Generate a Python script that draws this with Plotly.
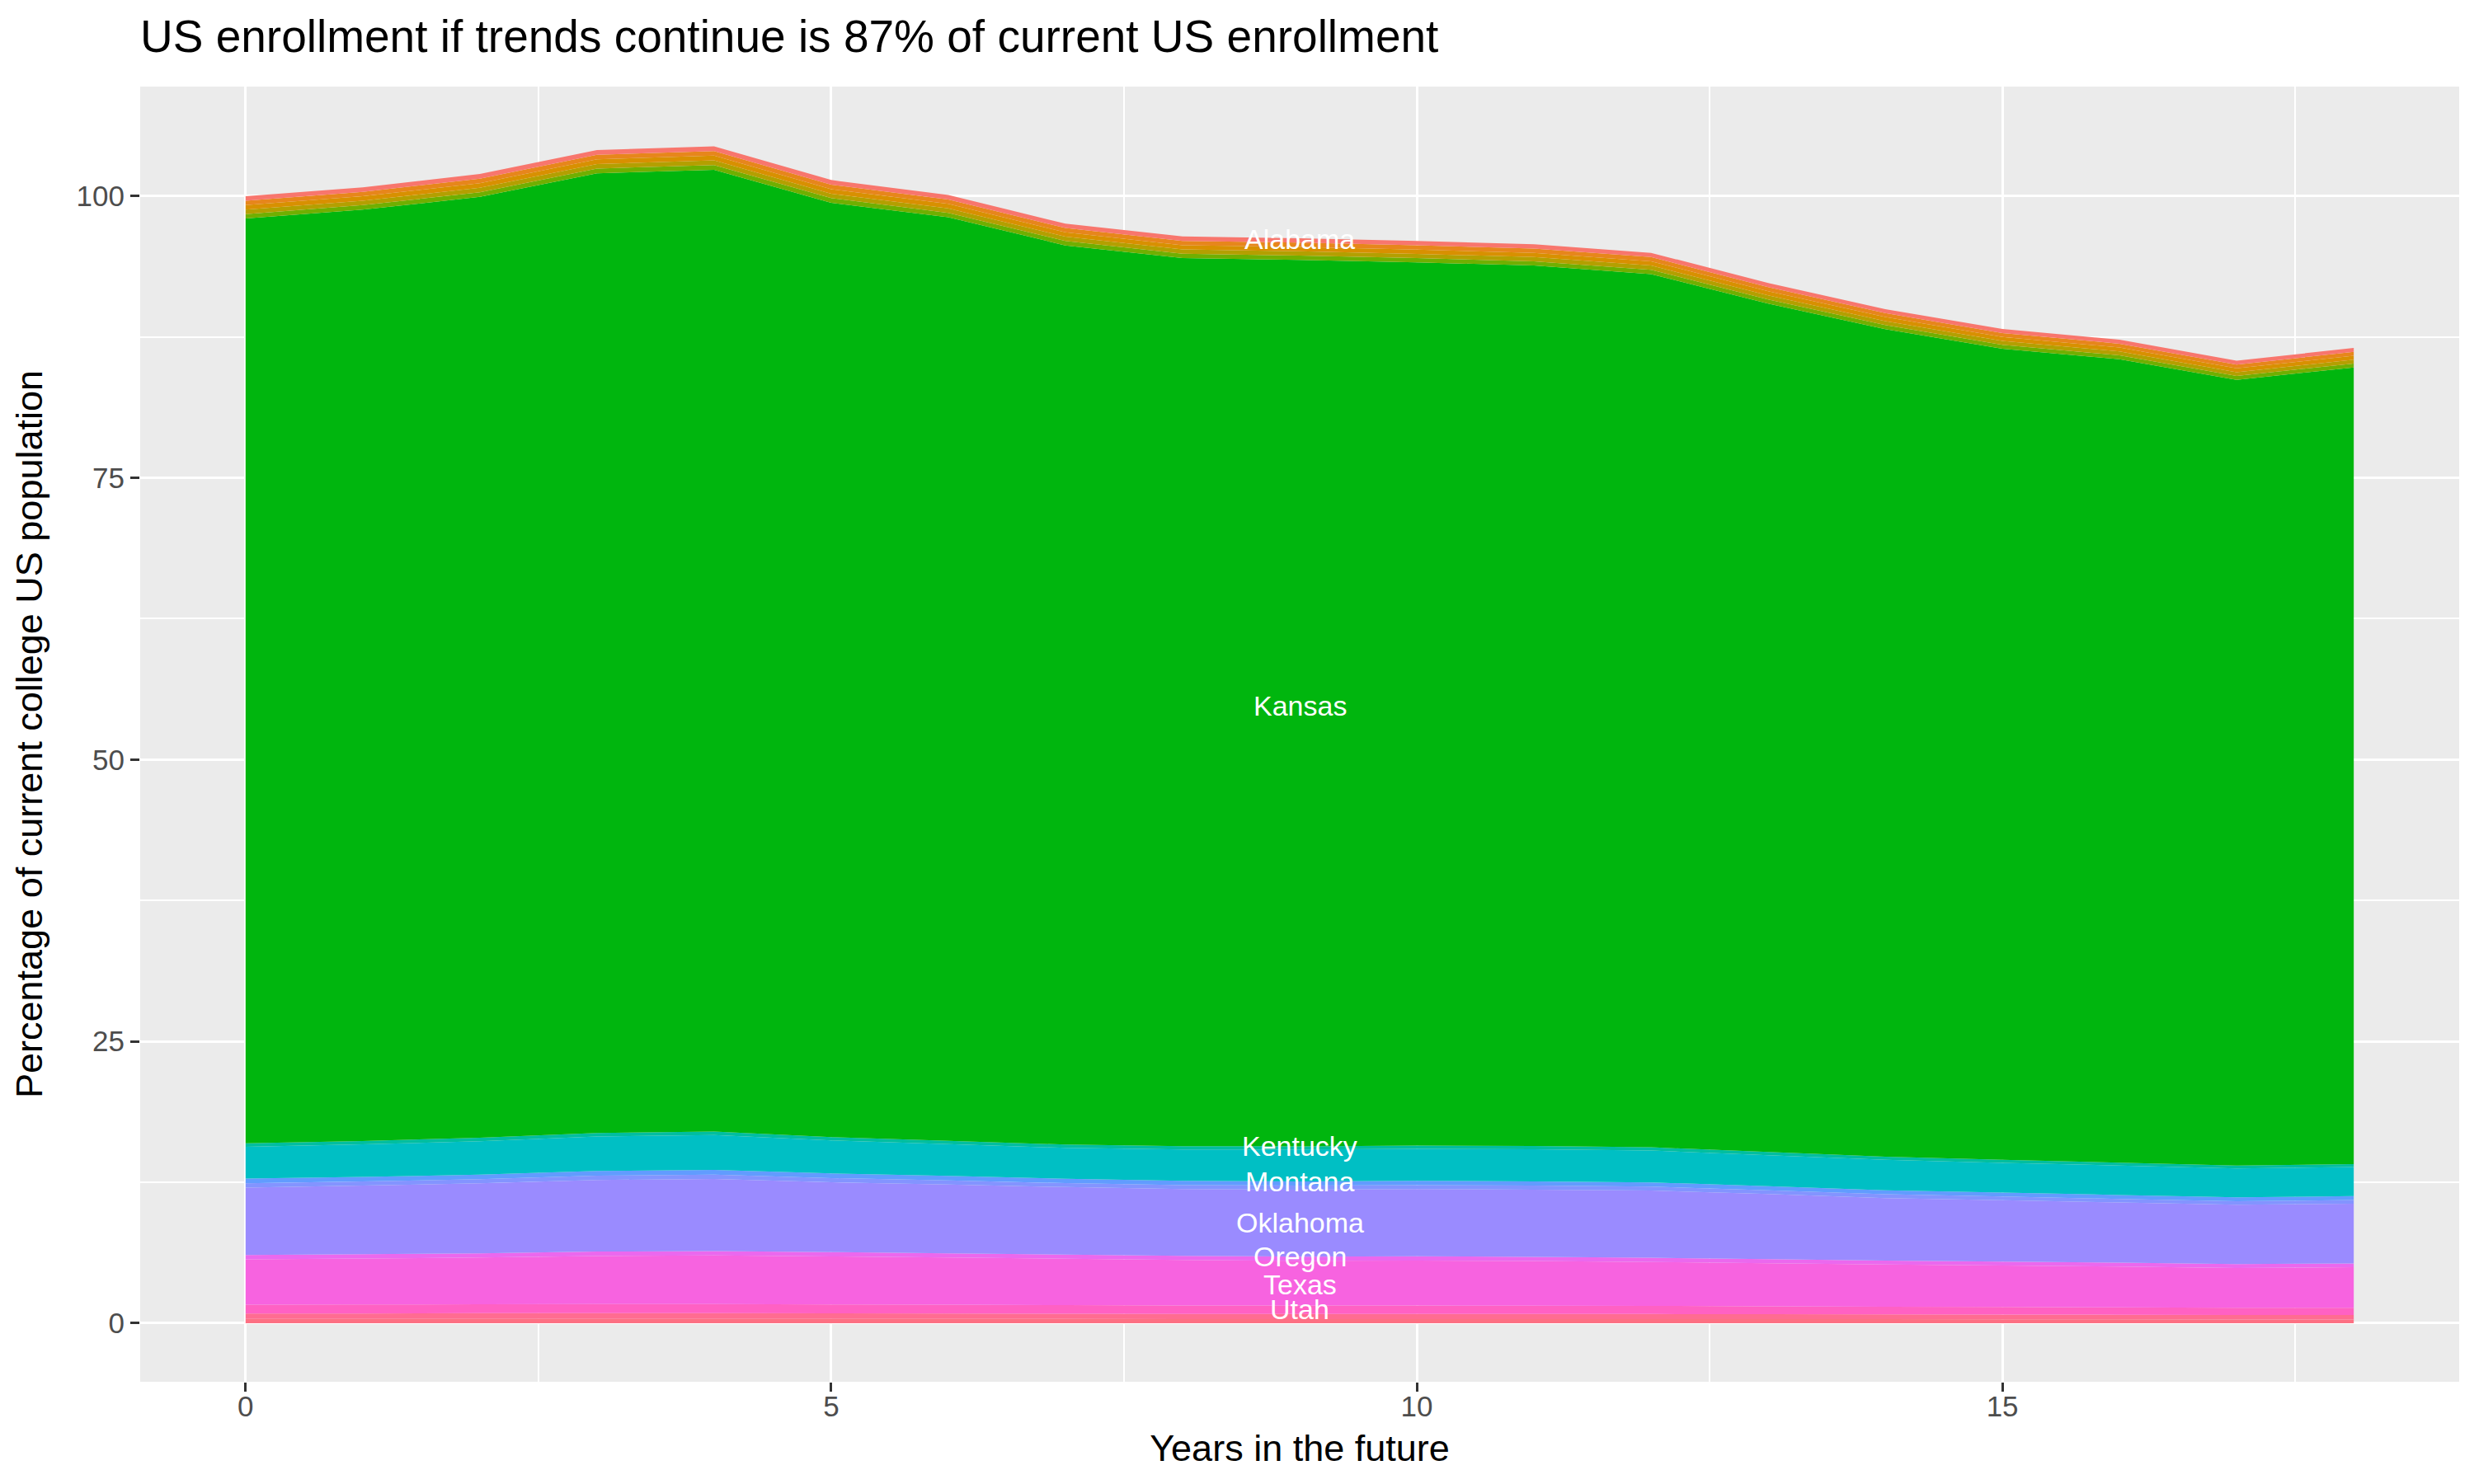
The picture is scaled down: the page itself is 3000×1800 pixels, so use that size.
import plotly.graph_objects as go

# years ahead (x axis)
years = [0, 1, 2, 3, 4, 5, 6, 7, 8, 9, 10, 11, 12, 13, 14, 15, 16, 17, 18]

# stacked layers, bottom to top (percentage of current college US population)
seg_a = [0.37, 0.37, 0.38, 0.38, 0.38, 0.38, 0.37, 0.37, 0.36, 0.36, 0.36, 0.36, 0.36, 0.35, 0.35, 0.34, 0.34, 0.33, 0.33]
seg_b = [0.49, 0.49, 0.50, 0.50, 0.50, 0.49, 0.48, 0.47, 0.46, 0.46, 0.46, 0.45, 0.45, 0.44, 0.43, 0.42, 0.41, 0.40, 0.40]
utah = [0.78, 0.79, 0.80, 0.81, 0.81, 0.79, 0.78, 0.76, 0.75, 0.74, 0.74, 0.73, 0.72, 0.70, 0.68, 0.67, 0.65, 0.63, 0.63]
texas = [4.03, 4.09, 4.14, 4.27, 4.32, 4.26, 4.19, 4.11, 4.04, 3.97, 4.00, 3.97, 3.90, 3.83, 3.74, 3.68, 3.62, 3.54, 3.60]
oregon = [0.38, 0.38, 0.38, 0.39, 0.39, 0.38, 0.38, 0.37, 0.37, 0.37, 0.37, 0.37, 0.37, 0.36, 0.36, 0.35, 0.35, 0.34, 0.34]
oklahoma = [5.97, 6.08, 6.20, 6.35, 6.40, 6.20, 6.10, 5.99, 5.92, 5.95, 5.97, 5.97, 5.96, 5.77, 5.54, 5.44, 5.33, 5.26, 5.30]
seg_c = [0.38, 0.37, 0.37, 0.38, 0.38, 0.37, 0.36, 0.35, 0.35, 0.35, 0.35, 0.35, 0.35, 0.34, 0.33, 0.33, 0.32, 0.32, 0.32]
montana = [0.42, 0.41, 0.40, 0.42, 0.42, 0.41, 0.40, 0.39, 0.38, 0.38, 0.38, 0.38, 0.38, 0.37, 0.36, 0.35, 0.35, 0.34, 0.35]
kentucky = [2.83, 2.88, 2.96, 3.06, 3.09, 2.93, 2.82, 2.74, 2.78, 2.82, 2.84, 2.84, 2.82, 2.74, 2.70, 2.64, 2.61, 2.56, 2.58]
seg_d = [0.30, 0.30, 0.31, 0.31, 0.31, 0.30, 0.30, 0.29, 0.29, 0.29, 0.29, 0.29, 0.29, 0.28, 0.27, 0.27, 0.26, 0.26, 0.26]
kansas = [82.04, 82.62, 83.47, 85.13, 85.32, 82.88, 81.92, 79.77, 78.78, 78.64, 78.35, 78.11, 77.47, 75.27, 73.42, 71.95, 71.27, 69.71, 70.67]
seg_e = [0.40, 0.40, 0.41, 0.42, 0.42, 0.41, 0.40, 0.39, 0.39, 0.38, 0.38, 0.38, 0.38, 0.37, 0.36, 0.35, 0.35, 0.34, 0.35]
seg_f = [0.39, 0.39, 0.40, 0.41, 0.41, 0.40, 0.39, 0.38, 0.38, 0.38, 0.37, 0.37, 0.37, 0.36, 0.35, 0.35, 0.34, 0.33, 0.34]
seg_g = [0.40, 0.40, 0.41, 0.41, 0.42, 0.40, 0.40, 0.39, 0.38, 0.38, 0.38, 0.38, 0.38, 0.37, 0.36, 0.35, 0.35, 0.34, 0.35]
seg_h = [0.39, 0.39, 0.40, 0.41, 0.41, 0.40, 0.39, 0.38, 0.38, 0.38, 0.38, 0.38, 0.37, 0.36, 0.35, 0.35, 0.34, 0.34, 0.34]
alabama = [0.40, 0.40, 0.41, 0.42, 0.42, 0.41, 0.40, 0.39, 0.39, 0.39, 0.39, 0.38, 0.38, 0.37, 0.36, 0.35, 0.35, 0.34, 0.35]

layers = [
    ("(unlabeled)", seg_a, "#FD7083"),
    ("(unlabeled)", seg_b, "#FF6C91"),
    ("Utah", utah, "#FF61C3"),
    ("Texas", texas, "#F763E0"),
    ("Oregon", oregon, "#EB68EE"),
    ("Oklahoma", oklahoma, "#9A8BFF"),
    ("(unlabeled)", seg_c, "#8394FF"),
    ("Montana", montana, "#619CFF"),
    ("Kentucky", kentucky, "#00BFC4"),
    ("(unlabeled)", seg_d, "#00BEA0"),
    ("Kansas", kansas, "#00B60E"),
    ("(unlabeled)", seg_e, "#70AF00"),
    ("(unlabeled)", seg_f, "#B49F00"),
    ("(unlabeled)", seg_g, "#D89000"),
    ("(unlabeled)", seg_h, "#E7861B"),
    ("Alabama", alabama, "#F8766D"),
]

# direct labels
label_names = ["Alabama", "Kansas", "Kentucky", "Montana", "Oklahoma", "Oregon", "Texas", "Utah"]
label_y = [96.2, 54.8, 15.75, 12.6, 8.9, 5.9, 3.45, 1.2]
label_x = 9

fig = go.Figure()
for name, vals, col in layers:
    fig.add_trace(go.Scatter(
        x=years, y=vals, name=name,
        stackgroup="one", mode="none",
        fillcolor=col, showlegend=False,
    ))

for name, yv in zip(label_names, label_y):
    fig.add_annotation(x=label_x, y=yv, text=name, showarrow=False,
                       xanchor="center", yanchor="middle",
                       font=dict(color="white", size=34))

font_family = "Liberation Sans, Arial, sans-serif"

fig.update_layout(
    width=3000, height=1800,
    margin=dict(l=162, r=26, t=97, b=132),
    paper_bgcolor="white",
    plot_bgcolor="#EBEBEB",
    font=dict(family=font_family, color="black"),
    title=dict(text="US enrollment if trends continue is 87% of current US enrollment",
               x=0, xref="paper", xanchor="left",
               y=1 - 36 / 1800, yref="container", yanchor="middle",
               font=dict(size=55, color="black")),
)

axis_common = dict(
    showgrid=True, gridcolor="white", gridwidth=3,
    zeroline=False, showline=False,
    ticks="outside", ticklen=11, tickwidth=3, tickcolor="#333333",
    tickfont=dict(size=35, color="#4D4D4D"),
)

fig.update_xaxes(
    range=[-0.9, 18.9], tickvals=[0, 5, 10, 15],
    minor=dict(tickvals=[2.5, 7.5, 12.5, 17.5], showgrid=True,
               gridcolor="white", gridwidth=1.5, ticks=""),
    ticklabelstandoff=-12,
    title=dict(text="Years in the future", font=dict(size=45), standoff=16),
    **axis_common,
)
fig.update_yaxes(
    range=[-5.2, 109.7], tickvals=[0, 25, 50, 75, 100],
    minor=dict(tickvals=[12.5, 37.5, 62.5, 87.5], showgrid=True,
               gridcolor="white", gridwidth=1.5, ticks=""),
    title=dict(text="Percentage of current college US population", font=dict(size=45), standoff=26),
    **axis_common,
)

fig.write_html("out.html")
